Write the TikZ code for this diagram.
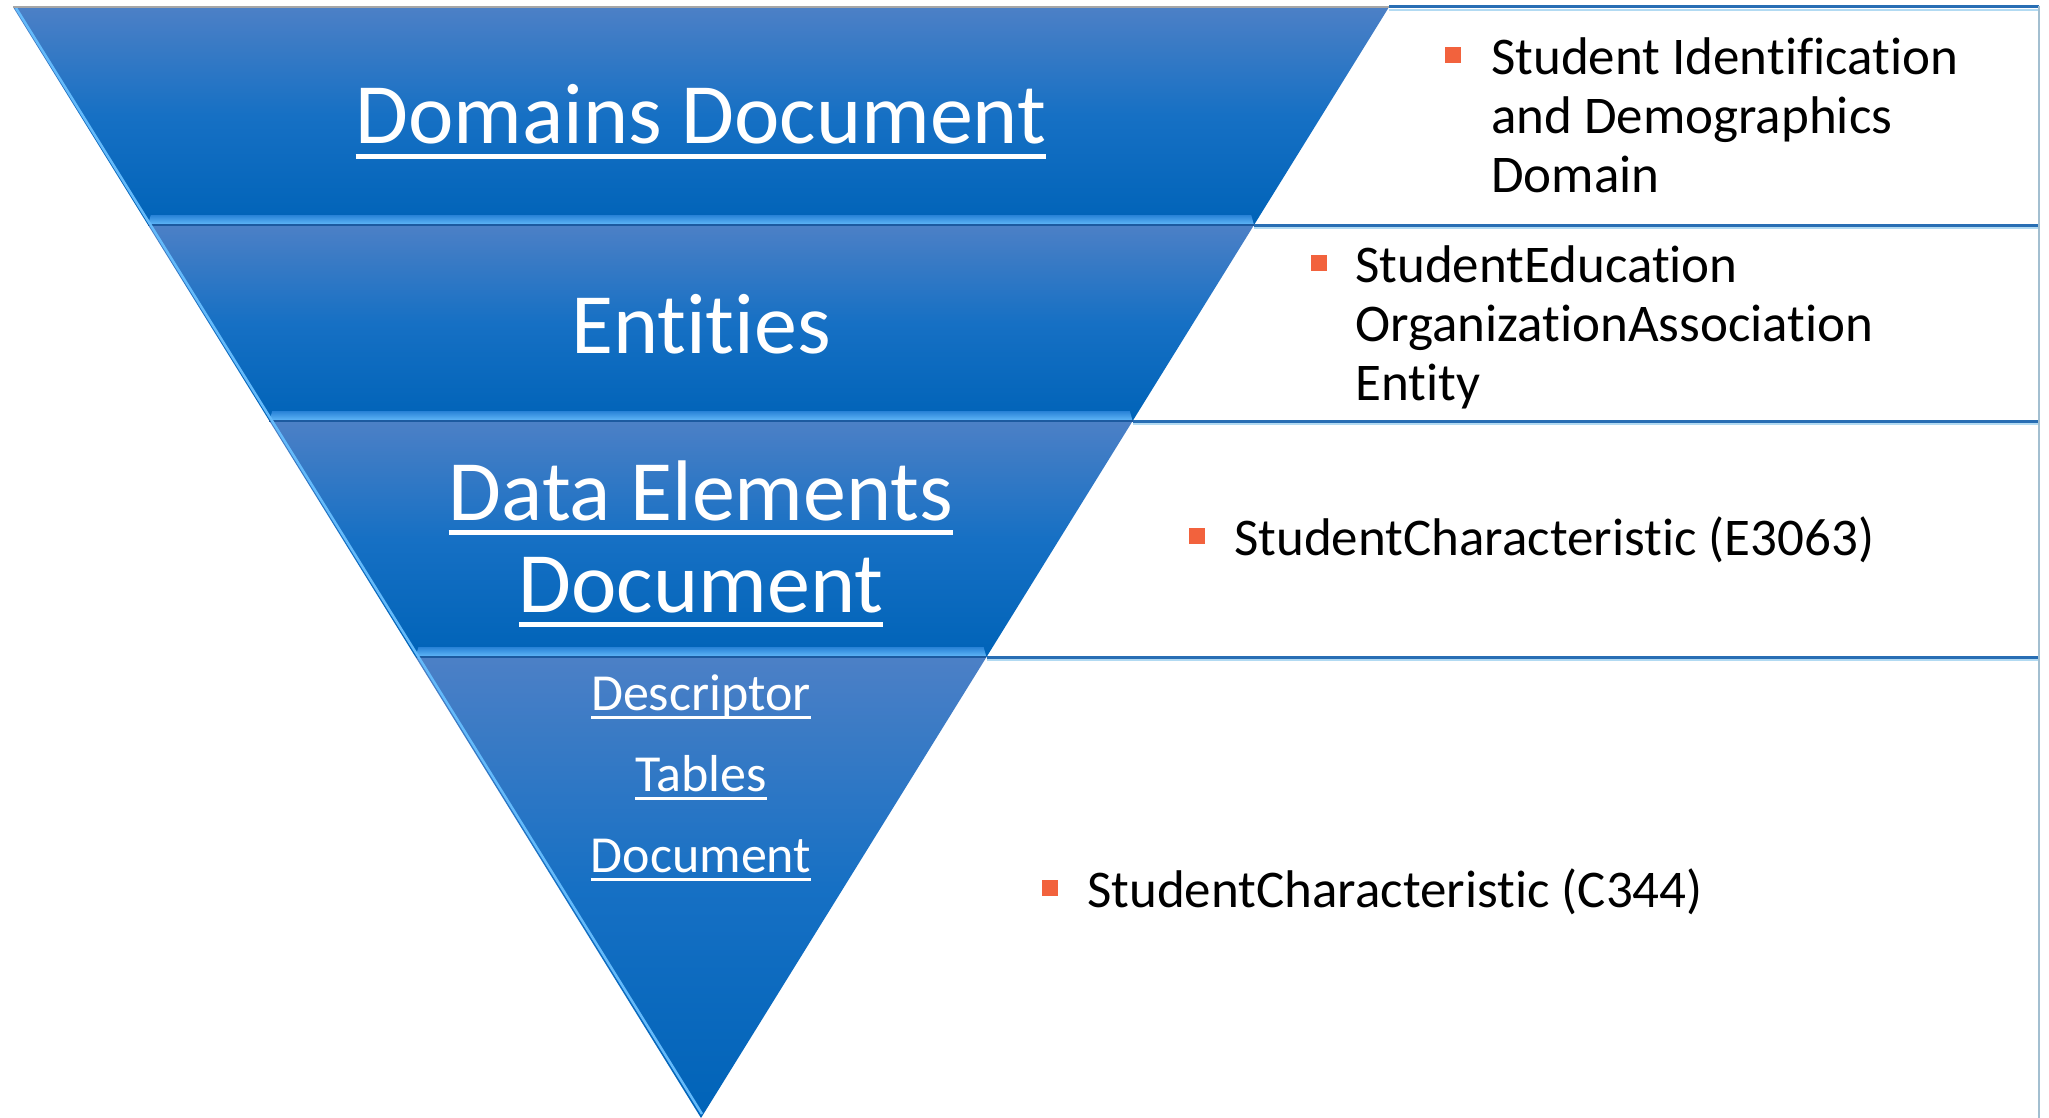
\documentclass[tikz,border=0pt]{standalone}
\usepackage{fontspec}
\setmainfont{Carlito}[Ligatures=NoCommon]

\definecolor{bandtop}{RGB}{76,128,198}
\definecolor{bandmid}{RGB}{22,112,196}
\definecolor{bandbot}{RGB}{0,99,184}
\definecolor{bevellow}{RGB}{40,130,215}
\definecolor{bevelhigh}{RGB}{100,186,250}
\definecolor{edgeblue}{RGB}{28,90,160}
\definecolor{rowline}{RGB}{40,110,180}
\definecolor{rowglow}{RGB}{178,218,242}
\definecolor{bulletred}{RGB}{242,98,61}

\newcommand\ulword[1]{\setbox0\hbox{#1}\rlap{\rule[-0.17em]{\wd0}{0.05em}}\box0}

\tikzset{
  band/.style={top color=bandtop, bottom color=bandbot, middle color=bandmid},
  bevelstrip/.style={top color=bevellow, bottom color=bevelhigh},
  bigtext/.style={text=white, inner sep=0pt, anchor=base, align=center,
    font=\fontsize{86}{92}\selectfont},
  smalltext/.style={text=white, inner sep=0pt, anchor=base, align=center,
    font=\fontsize{52}{81}\selectfont},
  itemtext/.style={text=black, inner sep=0pt, anchor=base west, align=left,
    font=\fontsize{53}{59}\selectfont},
  bulletsq/.style={fill=bulletred, minimum size=16pt, inner sep=0pt},
  rowrule/.style={draw=rowline, line width=3pt}
}

\begin{document}
\begin{tikzpicture}[x=1pt,y=-1pt]
        \fill[white] (0,0) rectangle (2049,1118);
        \useasboundingbox (0,0) rectangle (2049,1118);

        \shade[band] (13,7) -- (1389,7) -- (1254,225) -- (148,225) -- cycle;
        \shade[band] (148,225) -- (1254,225) -- (1132.6,421) -- (269.4,421) -- cycle;
        \shade[band] (269.4,421) -- (1132.6,421) -- (986.5,657) -- (415.5,657) -- cycle;
        \shade[band] (415.5,657) -- (986.5,657) -- (701,1118) -- cycle;

        \foreach \ya/\xl/\xr in {215/141.8/1260.2, 411/263.2/1138.8, 647/409.4/992.6} {
                \shade[bevelstrip] (\xl+9,\ya) -- (\xr-9,\ya) -- (\xr-6.2,\ya+10) -- (\xl+6.2,\ya+10) -- cycle;
                \draw[edgeblue, line width=1.5pt] (\xl+6.2,\ya+10) -- (\xr-6.2,\ya+10);
        }
        \draw[bevelhigh, line width=2.5pt] (16,8) -- (702,1114);
        \draw[gray!70, line width=1.5pt] (13,7) -- (1389,7);

        \foreach \y/\x in {7/1389, 225/1254, 421/1132.6, 657/986.5} {
                \draw[rowglow, line width=2pt] (\x,\y+3) -- (2039,\y+3);
                \draw[rowrule] (\x,\y) -- (2039,\y);
        }
        \draw[rowglow!70!gray, line width=2pt] (2039,6) -- (2039,1118);

        \node[bigtext] (dom) at (701,144) {\ulword{Domains Document}};
        \node[bigtext] (ent) at (701,353) {Entities};
        \node[bigtext] (del) at (701,612) {\ulword{Data Elements}\\\ulword{Document}};
        \node[smalltext] (dtd) at (701,872) {\ulword{Descriptor}\\\ulword{Tables}\\\ulword{Document}};

        \node[bulletsq] (b1) at (1452.5,55.5) {};
        \node[bulletsq] (b2) at (1318.5,263) {};
        \node[bulletsq] (b3) at (1196.5,536) {};
        \node[bulletsq] (b4) at (1049.5,888) {};

        \node[itemtext] (sid) at (1491,192.5) {Student Identification\\and Demographics\\Domain};
        \node[itemtext] (seo) at (1355,400) {StudentEducation\\OrganizationAssociation\\Entity};
        \node[itemtext] (sce) at (1234,555) {StudentCharacteristic (E3063)};
        \node[itemtext] (scc) at (1087,907) {StudentCharacteristic (C344)};

\end{tikzpicture}
\end{document}
